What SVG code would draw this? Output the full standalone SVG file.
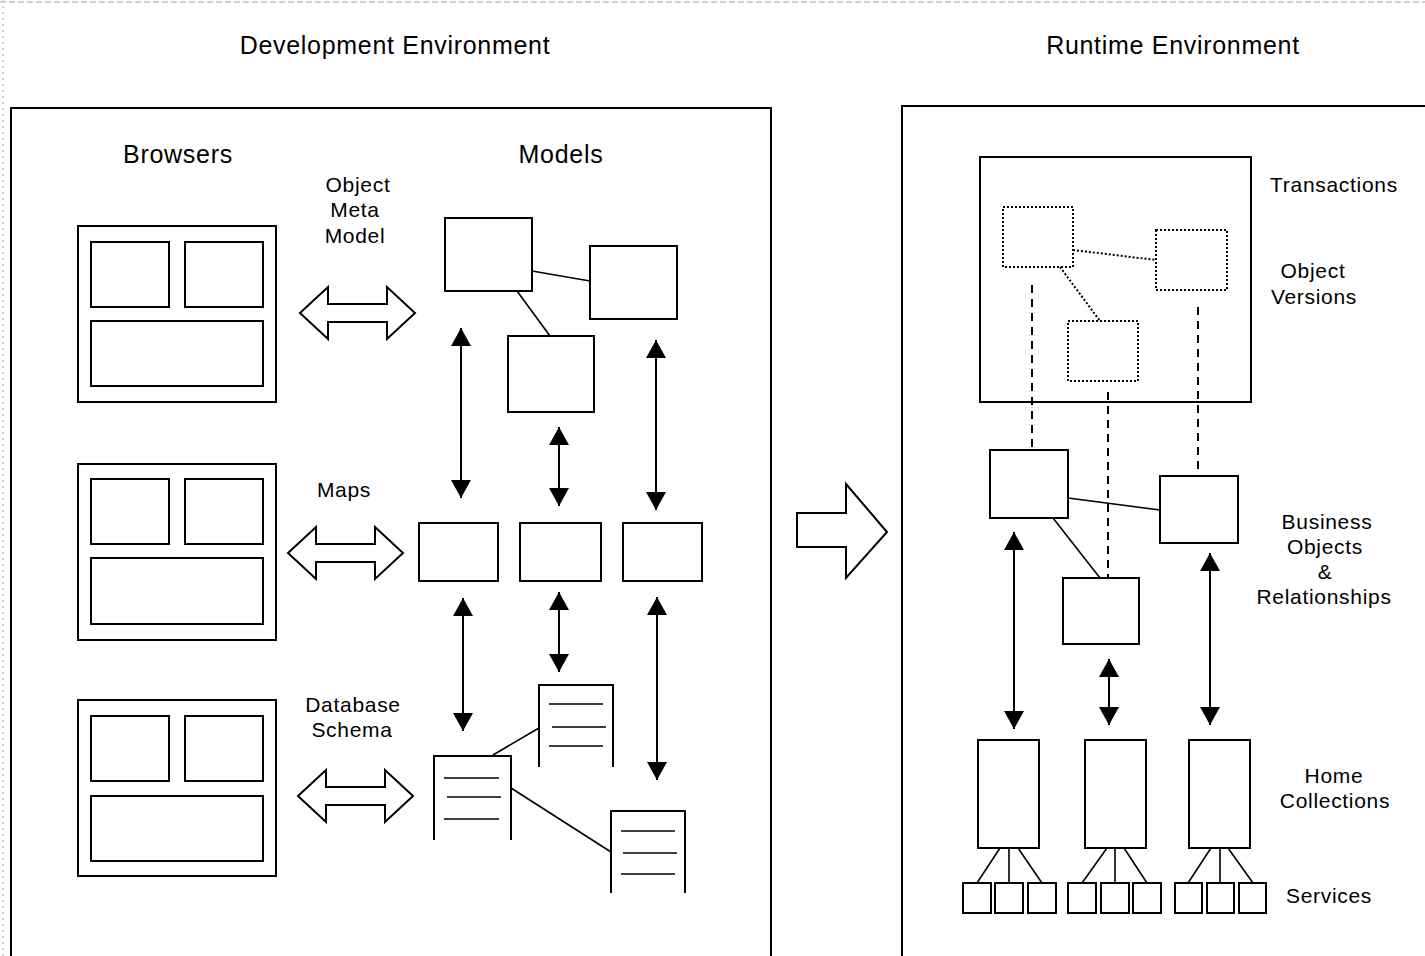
<svg xmlns="http://www.w3.org/2000/svg" width="1425" height="956" viewBox="0 0 1425 956">
<style>
.h{font-family:"Liberation Sans",Arial,sans-serif;font-size:25px;letter-spacing:0.7px;fill:#000;text-anchor:middle}
.l{font-family:"Liberation Sans",Arial,sans-serif;font-size:21px;letter-spacing:0.7px;fill:#000;text-anchor:middle}
.box{fill:#fff;stroke:#000;stroke-width:2}
.open{fill:none;stroke:#000;stroke-width:2}
.frame{fill:none;stroke:#000;stroke-width:2}
.ln{fill:none;stroke:#000;stroke-width:1.6}
.dot{fill:none;stroke:#000;stroke-width:2;stroke-dasharray:2 2}
.dash{fill:none;stroke:#000;stroke-width:2;stroke-dasharray:8 6}
.arr{fill:none;stroke:#000;stroke-width:2;marker-start:url(#ah);marker-end:url(#ah)}
.hollow{fill:#fff;stroke:#000;stroke-width:2;stroke-linejoin:miter}
.doc{fill:#fff;stroke:#000;stroke-width:2}
</style>
<defs>
<marker id="ah" viewBox="0 0 18 20" refX="18" refY="10" markerWidth="18" markerHeight="20" markerUnits="userSpaceOnUse" orient="auto-start-reverse">
<path d="M0,0 L18,10 L0,20 Z" fill="#000"/>
</marker>
<path id="dbl" d="M0,0 L28,-26 L28,-9 L87,-9 L87,-26 L115,0 L87,26 L87,9 L28,9 L28,26 Z"/>
</defs>
<rect width="1425" height="956" fill="#fff"/>
<line x1="0" y1="2" x2="1425" y2="2" stroke="#d0d0d0" stroke-width="2" stroke-dasharray="6 3"/>
<line x1="3" y1="0" x2="3" y2="956" stroke="#d0d0d0" stroke-width="2" stroke-dasharray="2 4"/>

<g id="titles">
<text class="h" x="395" y="54">Development Environment</text>
<text class="h" x="1173" y="54">Runtime Environment</text>
</g>

<g id="dev-frame"><rect class="frame" x="11" y="108" width="760" height="870"/></g>
<g id="run-frame"><rect class="frame" x="902" y="106" width="600" height="870"/></g>

<g id="labels-dev">
<text class="h" x="178" y="163">Browsers</text>
<text class="h" x="561" y="163">Models</text>
<text class="l" x="358" y="192">Object</text>
<text class="l" x="355" y="217">Meta</text>
<text class="l" x="355" y="243">Model</text>
<text class="l" x="344" y="497">Maps</text>
<text class="l" x="353" y="712">Database</text>
<text class="l" x="352" y="737">Schema</text>
</g>

<g id="browser1">
<rect class="box" x="78" y="226" width="198" height="176"/>
<rect class="box" x="91" y="242" width="78" height="65"/>
<rect class="box" x="185" y="242" width="78" height="65"/>
<rect class="box" x="91" y="321" width="172" height="65"/>
</g>
<g id="browser2">
<rect class="box" x="78" y="464" width="198" height="176"/>
<rect class="box" x="91" y="479" width="78" height="65"/>
<rect class="box" x="185" y="479" width="78" height="65"/>
<rect class="box" x="91" y="558" width="172" height="66"/>
</g>
<g id="browser3">
<rect class="box" x="78" y="700" width="198" height="176"/>
<rect class="box" x="91" y="716" width="78" height="65"/>
<rect class="box" x="185" y="716" width="78" height="65"/>
<rect class="box" x="91" y="796" width="172" height="65"/>
</g>

<g id="hollow-arrows">
<use href="#dbl" class="hollow" transform="translate(300,313)"/>
<use href="#dbl" class="hollow" transform="translate(288,553)"/>
<use href="#dbl" class="hollow" transform="translate(298,796)"/>
<path class="hollow" d="M797,513 L846,513 L846,484 L887,532 L846,578 L846,547 L797,547 Z"/>
</g>

<g id="transactions"><rect class="open" x="980" y="157" width="271" height="245"/></g>

<g id="connectors">
<line class="ln" x1="532" y1="271" x2="590" y2="281"/>
<line class="ln" x1="517" y1="291" x2="550" y2="336"/>
<line class="arr" x1="461" y1="328" x2="461" y2="498"/>
<line class="arr" x1="559" y1="427" x2="559" y2="506"/>
<line class="arr" x1="656" y1="340" x2="656" y2="510"/>
<line class="arr" x1="463" y1="598" x2="463" y2="731"/>
<line class="arr" x1="559" y1="592" x2="559" y2="672"/>
<line class="arr" x1="657" y1="597" x2="657" y2="780"/>
<line class="ln" x1="493" y1="755" x2="539" y2="728"/>
<line class="ln" x1="511" y1="788" x2="611" y2="852"/>
<line class="dot" x1="1073" y1="250" x2="1156" y2="260"/>
<line class="dot" x1="1060" y1="267" x2="1100" y2="321"/>
<line class="dash" x1="1032" y1="285" x2="1032" y2="450"/>
<line class="dash" x1="1108" y1="392" x2="1108" y2="578"/>
<line class="dash" x1="1198" y1="307" x2="1198" y2="470"/>
<line class="ln" x1="1068" y1="498" x2="1160" y2="510"/>
<line class="ln" x1="1053" y1="518" x2="1100" y2="578"/>
<line class="arr" x1="1014" y1="532" x2="1014" y2="729"/>
<line class="arr" x1="1109" y1="659" x2="1109" y2="725"/>
<line class="arr" x1="1210" y1="553" x2="1210" y2="725"/>
<line class="ln" x1="1000" y1="848" x2="977" y2="883"/>
<line class="ln" x1="1009" y1="848" x2="1009" y2="883"/>
<line class="ln" x1="1018" y1="848" x2="1042" y2="883"/>
<line class="ln" x1="1107" y1="848" x2="1082" y2="883"/>
<line class="ln" x1="1115" y1="848" x2="1115" y2="883"/>
<line class="ln" x1="1124" y1="848" x2="1147" y2="883"/>
<line class="ln" x1="1211" y1="848" x2="1188" y2="883"/>
<line class="ln" x1="1220" y1="848" x2="1220" y2="883"/>
<line class="ln" x1="1228" y1="848" x2="1253" y2="883"/>
</g>

<g id="model-a"><rect class="box" x="445" y="218" width="87" height="73"/></g>
<g id="model-b"><rect class="box" x="590" y="246" width="87" height="73"/></g>
<g id="model-c"><rect class="box" x="508" y="336" width="86" height="76"/></g>

<g id="map-1"><rect class="box" x="419" y="523" width="79" height="58"/></g>
<g id="map-2"><rect class="box" x="520" y="523" width="81" height="58"/></g>
<g id="map-3"><rect class="box" x="623" y="523" width="79" height="58"/></g>

<g id="schema-1">
<path class="doc" d="M539,767 V685 H613 V767"/>
<path class="ln" d="M549,704 H603 M552,727 H606 M549,746 H603"/>
</g>
<g id="schema-2">
<path class="doc" d="M434,840 V756 H511 V840"/>
<path class="ln" d="M444,778 H499 M447,797 H501 M444,819 H499"/>
</g>
<g id="schema-3">
<path class="doc" d="M611,893 V811 H685 V893"/>
<path class="ln" d="M621,831 H675 M623,853 H677 M621,874 H675"/>
</g>

<g id="labels-run">
<text class="l" x="1334" y="192">Transactions</text>
<text class="l" x="1313" y="278">Object</text>
<text class="l" x="1314" y="304">Versions</text>
<text class="l" x="1327" y="529">Business</text>
<text class="l" x="1325" y="554">Objects</text>
<text class="l" x="1325" y="579">&amp;</text>
<text class="l" x="1324" y="604">Relationships</text>
<text class="l" x="1334" y="783">Home</text>
<text class="l" x="1335" y="808">Collections</text>
<text class="l" x="1329" y="903">Services</text>
</g>

<g id="version-1"><rect class="dot" x="1003" y="207" width="70" height="60"/></g>
<g id="version-2"><rect class="dot" x="1156" y="230" width="71" height="60"/></g>
<g id="version-3"><rect class="dot" x="1068" y="321" width="70" height="60"/></g>

<g id="bo-1"><rect class="box" x="990" y="450" width="78" height="68"/></g>
<g id="bo-2"><rect class="box" x="1160" y="476" width="78" height="67"/></g>
<g id="bo-3"><rect class="box" x="1063" y="578" width="76" height="66"/></g>

<g id="home-1"><rect class="box" x="978" y="740" width="61" height="108"/></g>
<g id="home-2"><rect class="box" x="1085" y="740" width="61" height="108"/></g>
<g id="home-3"><rect class="box" x="1189" y="740" width="61" height="108"/></g>

<g id="services-1">
<rect class="box" x="963" y="883" width="28" height="30"/>
<rect class="box" x="995" y="883" width="28" height="30"/>
<rect class="box" x="1028" y="883" width="28" height="30"/>
</g>
<g id="services-2">
<rect class="box" x="1068" y="883" width="28" height="30"/>
<rect class="box" x="1101" y="883" width="28" height="30"/>
<rect class="box" x="1133" y="883" width="28" height="30"/>
</g>
<g id="services-3">
<rect class="box" x="1175" y="883" width="27" height="30"/>
<rect class="box" x="1207" y="883" width="27" height="30"/>
<rect class="box" x="1239" y="883" width="27" height="30"/>
</g>
</svg>
